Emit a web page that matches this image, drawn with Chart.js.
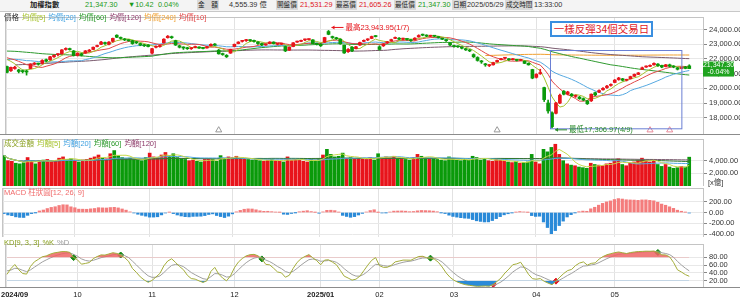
<!DOCTYPE html>
<html>
<head>
<meta charset="utf-8">
<script src="https://cdn.jsdelivr.net/npm/chart.js@4.4.1/dist/chart.umd.min.js"></script>
<style>
  body { margin: 0; width: 740px; height: 301px; overflow: hidden; background: #fff; position: relative;
         font-family: "Liberation Sans", "Noto Sans CJK TC", sans-serif; }
  canvas { position: absolute; left: 0; }
  .t { position: absolute; font-size: 8px; line-height: 10px; white-space: nowrap; }
  #hdr .t { font-size: 7.3px; }
  #hdr .lb { background: #dadada; color: #222; font-size: 6.6px; padding: 0 1px; }
  .g { color: #1a9a1a; } .r { color: #e0161e; }
  #hdr { position: absolute; left: 0; top: 0; width: 740px; height: 11px; background: #f4f4f4; border-bottom: 1px solid #c8c8c8; }
  .leg span { margin-right: 3px; }
  #note { position: absolute; left: 550px; top: 21px; width: 99px; height: 12px; border: 2px solid #3a8fe0; white-space: nowrap;
          color: #e0161e; font-family: "Noto Sans CJK TC", sans-serif; font-size: 10.5px; line-height: 12px; text-align: center; background: #fff; }
</style>
</head>
<body>
<div id="hdr">
  <span class="t" style="left:30px;top:0;font-weight:bold;color:#222">加權指數</span>
  <span class="t g" style="left:85px;top:0">21,347.30</span>
  <span class="t g" style="left:128px;top:0">▼10.42</span>
  <span class="t g" style="left:158px;top:0">0.04%</span>
  <span class="t lb" style="left:197px;top:0">金　額</span>
  <span class="t" style="left:229px;top:0;color:#333">4,555.39 億</span>
  <span class="t lb" style="left:276px;top:0">開盤價</span>
  <span class="t r" style="left:300px;top:0">21,531.29</span>
  <span class="t lb" style="left:335px;top:0">最高價</span>
  <span class="t r" style="left:359px;top:0">21,605.26</span>
  <span class="t lb" style="left:394px;top:0">最低價</span>
  <span class="t g" style="left:418px;top:0">21,347.30</span>
  <span class="t lb" style="left:452px;top:0">日期</span>
  <span class="t" style="left:467px;top:0;color:#333">2025/05/29</span>
  <span class="t lb" style="left:505px;top:0">成交時間</span>
  <span class="t" style="left:534px;top:0;color:#333">13:33:00</span>
</div>

<canvas id="price" width="740" height="127" style="top:12px"></canvas>
<canvas id="vol" width="740" height="47" style="top:139px"></canvas>
<canvas id="macd" width="740" height="49" style="top:188px"></canvas>
<canvas id="kd" width="740" height="62" style="top:239px"></canvas>

<div class="t leg" style="left:4px;top:13px;font-size:7.5px">
  <span style="color:#333">價格</span><span style="color:#a6c22e">均價[5]</span><span style="color:#3ea0e0">均價[20]</span><span style="color:#2a9a2a">均價[60]</span><span style="color:#8e3a6a">均價[120]</span><span style="color:#f0a030">均價[240]</span><span style="color:#e04848">均價[10]</span>
</div>
<div class="t leg" style="left:4px;top:139px;font-size:7.5px">
  <span style="color:#8aa020">成交金額</span><span style="color:#a6c22e">均額[5]</span><span style="color:#3ea0e0">均額[20]</span><span style="color:#2a9a2a">均額[60]</span><span style="color:#8e3a6a">均額[120]</span>
</div>
<div class="t" style="left:4px;top:188px;font-size:7.5px;color:#f06a6a">MACD 柱狀圖[12, 26, 9]</div>
<div class="t leg" style="left:4px;top:238px;font-size:7.5px">
  <span style="color:#8aa020">KD[9, 3, 3]</span><span style="color:#8aa020">%K</span><span style="color:#999">%D</span>
</div>
<div class="t" style="left:708px;top:178px;font-size:7.5px;color:#333">[x億]</div>
<div id="note">一樣反彈34個交易日</div>

<script>
// trading calendar (TWSE), 2024/09/04 - 2025/05/29
const holidays = ['2024-09-17','2024-10-02','2024-10-03','2024-10-10','2024-10-31','2025-01-01',
  '2025-01-23','2025-01-24','2025-01-27','2025-01-28','2025-01-29','2025-01-30','2025-01-31',
  '2025-02-28','2025-04-03','2025-04-04','2025-05-01'];
const dates = [];
for (let d = new Date(Date.UTC(2024, 8, 4)); d <= new Date(Date.UTC(2025, 4, 29)); d.setUTCDate(d.getUTCDate() + 1)) {
  const s = d.toISOString().slice(0, 10);
  if (d.getUTCDay() === 0 || d.getUTCDay() === 6 || holidays.includes(s)) continue;
  dates.push(s);
}

// closes before the window (2024/03/15 - 2024/09/03), only used to warm up the averages
const warmupCloses = [
  19700,19900,19750,19950,20100,20200,20250,20150,20200,20250,20300,
  20400,20450,20400,20650,20800,20790,20680,20700,20400,19950,20300,20200,19500,19600,20000,20100,20000,20300,20500,20400,
  20300,20200,20350,20500,20700,20600,20650,20700,20850,20900,21000,21200,21250,21300,21200,21250,21500,21350,21400,21500,21350,21175,
  21500,21350,21650,21860,21860,21880,22000,22300,22500,22500,22900,23200,23400,23250,23000,23000,23200,22950,23030,
  23100,23200,23500,23700,23500,23800,23900,24000,24390,23900,23800,24100,23600,23400,23000,22500,22800,22100,22500,22200,22200,
  22000,21640,19830,20500,21000,20900,21400,21600,21800,21900,21800,22300,22100,22100,22300,22200,22100,22200,22200,22300,22100,22270,
  22300,22090
];

const open = [
  21480,21200,21350,21250,21200,21150,21350,21650,21700,21700,21950,21950,22150,22300,22350,22650,22700,22550,
  22250,22350,22400,22520,22650,22850,23000,23100,23000,23200,23620,23450,23350,23300,23250,23150,23050,22950,22950,
  22400,22800,22850,23100,23450,23500,23250,22900,22800,22750,22700,22780,22800,22760,22750,22900,23000,22600,22350,22250,22400,
  22850,23050,23200,23250,23300,23250,23150,23050,22950,23050,23150,23000,23000,22850,22600,22850,23150,23200,23300,23320,23300,23050,
  23000,23150,23870,23500,23450,23350,22930,22500,22800,22700,22950,23200,23300,23400,23550,
  22830,22900,23100,23250,23400,23400,23350,23350,23300,23300,23500,23650,23600,23550,23560,23500,23400,23300,23100,
  22900,22850,22800,22700,22600,22300,22100,21850,21650,21550,21600,21800,21950,22050,22000,21950,21950,21900,21850,21700,21280,
  20750,21000,20050,19000,18330,18300,19000,19800,19600,19600,19450,19400,19300,19150,19150,19700,19750,19900,20050,20200,
  20400,20600,20650,20550,20650,20820,20950,21300,21450,21500,21600,21650,21550,21480,21600,21500,21400,21350,21450,21531.29
];
const high = [
  21520,21450,21500,21300,21250,21250,21680,21760,21720,21950,22000,22180,22280,22350,22640,22760,22740,22580,
  22420,22400,22580,22650,22820,22950,23200,23150,23180,23420,23650,23500,23400,23320,23280,23200,23080,23000,22980,
  22720,22900,22950,23380,23600,23560,23280,22950,22830,22800,22780,22880,22820,22790,22860,23030,23050,22650,22400,22300,22670,
  23020,23180,23250,23330,23320,23280,23180,23080,23030,23180,23170,23050,23080,22880,22820,23120,23220,23280,23350,23380,23320,23080,
  23050,23480,23943.95,23560,23480,23370,22950,22700,22850,22860,23150,23300,23380,23560,23600,
  22900,23050,23200,23350,23500,23450,23420,23380,23320,23450,23650,23700,23650,23620,23600,23520,23420,23320,23120,
  22950,22900,22830,22720,22650,22350,22150,21900,21700,21620,21780,21930,22050,22100,22020,22030,21970,21980,21870,21740,21300,
  21000,21300,20080,19200,18400,19050,19600,19850,19800,19650,19550,19450,19350,19180,19620,19750,19900,20050,20200,20300,
  20600,20750,20680,20620,20830,20980,21080,21450,21530,21600,21730,21680,21580,21630,21650,21550,21420,21450,21500,21605.26
];
const low = [
  21050,21150,21300,21050,21050,20900,21330,21600,21580,21650,21820,21900,22100,22200,22330,22600,22600,22200,
  22200,22200,22380,22500,22630,22820,22980,23000,22950,23150,23450,23350,23250,23200,23000,23050,22900,22850,22820,
  22350,22750,22800,23080,23420,23400,22920,22750,22650,22650,22650,22760,22720,22680,22740,22880,22920,22330,22250,22100,22380,
  22830,23030,23150,23200,23200,23150,23000,22900,22930,23030,23020,22950,22980,22500,22580,22830,23120,23180,23250,23300,23030,22950,
  22850,23120,23650,23400,23330,23000,22380,22450,22500,22680,22930,23180,23250,23380,23500,
  22600,22850,23050,23200,23380,23320,23300,23280,23200,23280,23480,23580,23520,23500,23500,23420,23320,23200,22900,
  22800,22780,22680,22580,22500,22100,21850,21700,21500,21480,21580,21780,21930,22000,21900,21930,21860,21880,21680,21580,20650,
  20700,20950,19100,18300,17306.97,18250,18950,19550,19550,19450,19380,19250,19150,18900,19100,19500,19700,19880,20000,20150,
  20380,20550,20500,20500,20630,20800,20930,21280,21420,21480,21580,21500,21400,21460,21450,21400,21250,21330,21330,21347.30
];
const close = [
  21092,21430,21440,21150,21140,21110,21650,21700,21650,21900,21870,22150,22250,22300,22620,22700,22640,22230,
  22400,22250,22550,22600,22800,22900,23150,23050,23150,23400,23480,23400,23300,23250,23050,23100,22950,22900,22850,
  22700,22850,22900,23350,23550,23450,22950,22800,22750,22700,22730,22850,22750,22720,22830,23000,22950,22350,22300,22150,22650,
  23000,23150,23200,23300,23250,23200,23050,22950,23000,23150,23050,23000,23050,22550,22800,23100,23200,23250,23300,23350,23050,23000,
  22900,23460,23680,23460,23380,23040,22410,22650,22550,22830,23120,23250,23350,23530,23525,
  22650,23000,23150,23300,23460,23350,23380,23330,23250,23420,23600,23620,23560,23580,23550,23460,23350,23250,22950,
  22850,22830,22730,22620,22550,22150,21900,21800,21600,21550,21750,21900,22000,22050,21950,22000,21900,21950,21700,21600,20695,
  20950,21050,19232,18460,17391,19000,19528,19600,19750,19500,19500,19300,19200,18950,19600,19550,19850,20000,20150,20235,
  20560,20700,20550,20580,20800,20950,21050,21400,21500,21550,21700,21550,21450,21600,21500,21450,21300,21400,21357.72,21347.30
];
// turnover, 億元
const volume = [
  4800,4000,3900,3600,3500,3700,4500,3900,3500,4000,4100,4200,3900,4000,4400,4600,4200,4300,
  4000,3800,4100,4200,4400,4600,4900,4400,4300,5100,5600,4800,4500,4300,4400,4200,4100,4000,4500,
  5200,4600,4500,4900,5300,4800,5100,4500,4300,4200,4000,4100,3900,3800,4200,4300,4200,3900,4800,4400,4600,
  4500,4700,4400,4300,4200,4100,4200,4000,3900,4100,4200,4000,3900,3800,4600,4100,4200,4100,3900,3800,4200,4100,
  4300,4900,5800,5000,4600,4700,5200,4400,4500,4300,4400,4300,4200,4500,4100,
  5100,4500,4600,4500,4700,4400,4300,4200,4100,4500,5000,4700,4500,4400,4300,4200,4100,4000,4600,
  4200,4100,4000,4200,4100,4700,4500,4100,4300,4000,3900,4200,4100,3900,3800,3700,3900,3600,3700,3800,5000,
  3800,3500,5800,5400,6100,6600,5000,4000,3500,3300,3200,3000,2900,2800,3600,3400,3300,3200,3500,3600,
  4000,4300,3400,3200,3600,3800,4000,4400,4000,3800,4100,3400,3100,3400,3000,2800,2900,3100,3000,4555.39
];
const priceTicks = [18000, 19000, 20000, 21000, 22000, 23000, 24000];
const volTicks = [2000, 4000];
const macdTicks = [-400, -200, 0, 200];
const kdTicks = [20, 40, 60, 80];
const markIdx = [54, 125, 164, 169];        // △ event marks
const lastText = ['21,347.30', '-0.04%'];

const RED = '#e8141b', GREEN = '#0a9a0a';
const N = close.length;
const labels = dates.concat(['', '', '']);
const isMonth = i => i === 0 || (i < N && dates[i].slice(5, 7) !== dates[i - 1].slice(5, 7));
const monthLabel = i => (i === 0 || dates[i].slice(5, 7) === '01') ? dates[i].slice(0, 7).replace('-', '/') : dates[i].slice(5, 7);
const col = close.map((c, i) => c >= open[i] ? RED : GREEN);

const allC = warmupCloses.concat(close);
const W = warmupCloses.length;
function sma(n) {
  return close.map((_, i) => {
    const j = i + W;
    if (j < n - 1) return null;
    let s = 0;
    for (let k = j - n + 1; k <= j; k++) s += allC[k];
    return s / n;
  });
}
function vma(n) {
  return volume.map((_, i) => {
    const s = Math.max(0, i - n + 1);
    let t = 0;
    for (let k = s; k <= i; k++) t += volume[k];
    return t / (i - s + 1);
  });
}

// MACD
let e12 = allC[0], e26 = allC[0], dem = 0;
const osc = [];
allC.forEach((c, j) => {
  e12 += (c - e12) * 2 / 13;
  e26 += (c - e26) * 2 / 27;
  const dif = e12 - e26;
  dem += (dif - dem) * 0.2;
  if (j >= W) osc.push(dif - dem);
});

// KD 9,3,3
const K = [], D = [];
let kv = 50, dv = 50;
for (let i = 0; i < N; i++) {
  let hh = -Infinity, ll = Infinity;
  for (let j = Math.max(0, i - 8); j <= i; j++) { hh = Math.max(hh, high[j]); ll = Math.min(ll, low[j]); }
  const rsv = hh > ll ? (close[i] - ll) / (hh - ll) * 100 : 50;
  kv = kv * 2 / 3 + rsv / 3;
  dv = dv * 2 / 3 + kv / 3;
  K.push(kv); D.push(dv);
}
const sellK = K.map((v, i) => i > 0 && K[i - 1] >= D[i - 1] && v < D[i] && D[i] > 78 ? v : null);
const buyK = K.map((v, i) => i > 0 && K[i - 1] <= D[i - 1] && v > D[i] && D[i] < 22 ? v : null);

Chart.defaults.font.family = '"Liberation Sans", "Noto Sans CJK TC", sans-serif';
Chart.defaults.animation = false;

function xAxis() {
  return {
    type: 'category', offset: true,
    grid: { offset: false, drawTicks: false, color: c => isMonth(c.index) ? '#e2e2e2' : 'transparent' },
    ticks: { display: false }, border: { display: false },
    afterFit: s => { s.height = 0; s.paddingLeft = 0; s.paddingRight = 0; }
  };
}
function yAxis(min, max, ticks) {
  return {
    position: 'right', min, max,
    afterBuildTicks: s => { s.ticks = ticks.map(v => ({ value: v })); },
    afterFit: s => { s.width = 37; s.paddingTop = 0; s.paddingBottom = 0; },
    grid: { color: '#e8e8e8', tickLength: 4, tickColor: '#888' },
    border: { color: '#999' },
    ticks: { font: { size: 7.5 }, color: '#333', padding: 2,
             callback: v => v.toLocaleString('en-US', { minimumFractionDigits: 2, maximumFractionDigits: 2 }) }
  };
}
const frame = {
  id: 'frame',
  afterDraw(chart) {
    const { ctx, chartArea: a } = chart;
    ctx.save();
    ctx.strokeStyle = '#c4c4c4';
    ctx.strokeRect(a.left + 0.5, a.top + 0.5, a.right - a.left, a.bottom - a.top);
    ctx.strokeStyle = '#8c8c8c';
    ctx.beginPath(); ctx.moveTo(0, a.bottom + 0.5); ctx.lineTo(740, a.bottom + 0.5); ctx.stroke();
    ctx.restore();
  }
};
function base(extra) {
  return Object.assign({
    responsive: false, devicePixelRatio: 1,
    layout: { padding: { left: 2, right: 0, top: 0, bottom: 0 } },
    plugins: { legend: { display: false }, tooltip: { enabled: false } }
  }, extra);
}
const line = (data, color) => ({ type: 'line', data, borderColor: color, borderWidth: 1, pointRadius: 0, fill: false, order: 1 });

// price panel
const annot = {
  id: 'annot',
  afterDatasetsDraw(chart) {
    const { ctx, scales: { x, y } } = chart;
    ctx.save();
    // 34-day rebound box
    const bx1 = x.getPixelForValue(138.6), bx2 = x.getPixelForValue(172.1);
    const by1 = y.getPixelForValue(22600), by2 = y.getPixelForValue(17265);
    ctx.strokeStyle = '#6a7fd4'; ctx.lineWidth = 1;
    ctx.strokeRect(Math.round(bx1) + 0.5, Math.round(by1) + 0.5, bx2 - bx1, by2 - by1);
    // high / low notes
    const hi = high.indexOf(Math.max(...high)), lo = low.indexOf(Math.min(...low));
    const notes = [
      [hi, high[hi], -3, RED, '最高23,943.95(1/7)'],
      [lo, low[lo], 2, '#2a8a2a', '最低17,306.97(4/9)']
    ];
    ctx.font = '7.5px "Liberation Sans", "Noto Sans CJK TC"';
    ctx.textBaseline = 'middle';
    notes.forEach(([i, v, dy, c, txt]) => {
      const px = x.getPixelForValue(i) + 3, py = y.getPixelForValue(v) + dy;
      ctx.strokeStyle = c; ctx.fillStyle = c;
      ctx.beginPath(); ctx.moveTo(px, py); ctx.lineTo(px + 12, py); ctx.stroke();
      ctx.beginPath(); ctx.moveTo(px, py); ctx.lineTo(px + 3, py - 2); ctx.lineTo(px + 3, py + 2); ctx.fill();
      ctx.fillText(txt, px + 14, py);
    });
    ctx.restore();
  },
  afterDraw(chart) {
    const { ctx, scales: { y }, chartArea: a } = chart;
    const py = y.getPixelForValue(close[N - 1]);
    ctx.save();
    ctx.fillStyle = '#1fa31f';
    ctx.fillRect(a.right, py - 7, 31, 15);
    ctx.fillStyle = '#fff';
    ctx.font = '7px "Liberation Sans"';
    ctx.textAlign = 'center'; ctx.textBaseline = 'middle';
    ctx.fillText(lastText[0], a.right + 15.5, py - 3.5);
    ctx.fillText(lastText[1], a.right + 15.5, py + 3.5);
    ctx.restore();
  }
};
new Chart(document.getElementById('price'), {
  type: 'bar',
  data: {
    labels,
    datasets: [
      { data: close.map((c, i) => [open[i], c]), backgroundColor: col, barThickness: 3, minBarLength: 1, grouped: false, order: 0 },
      { data: close.map((c, i) => [low[i], high[i]]), backgroundColor: col, barThickness: 1, grouped: false, order: 0 },
      line(sma(5), '#a6c22e'),
      line(sma(10), '#e04848'),
      line(sma(20), '#55a8e0'),
      line(sma(60), '#2f9a2f'),
      line(sma(120), '#7a5a6e'),
      line(sma(240), '#f0a030'),
      { type: 'line', data: close.map((_, i) => markIdx.includes(i) ? 17150 : null), showLine: false,
        pointStyle: 'triangle', pointRadius: 3.5, borderWidth: 1, backgroundColor: '#fff',
        borderColor: close.map((_, i) => i > 150 ? '#e88a9a' : '#999'), order: 0 }
    ]
  },
  options: base({ scales: { x: xAxis(), y: yAxis(16888, 24860, priceTicks) } }),
  plugins: [frame, annot]
});

// turnover panel
new Chart(document.getElementById('vol'), {
  type: 'bar',
  data: {
    labels,
    datasets: [
      { data: volume, backgroundColor: col, barThickness: 3, order: 2 },
      line(vma(5), '#c6d84a'),
      line(vma(20), '#55a8e0'),
      line(vma(60), '#2f7a2f'),
      line(vma(120), '#7a5a6e')
    ]
  },
  options: base({ scales: { x: xAxis(), y: yAxis(0, 7430, volTicks) } }),
  plugins: [frame]
});

// MACD panel
new Chart(document.getElementById('macd'), {
  type: 'bar',
  data: {
    labels,
    datasets: [{ data: osc, backgroundColor: osc.map(v => v >= 0 ? '#f47c7c' : '#2a8ad8'), barThickness: 2.6 }]
  },
  options: base({ scales: { x: xAxis(), y: yAxis(-454, 454, macdTicks) } }),
  plugins: [frame]
});

// KD panel + month labels
const months = {
  id: 'months',
  afterDraw(chart) {
    const { ctx, scales: { x }, chartArea: a } = chart;
    ctx.save();
    ctx.fillStyle = '#222'; ctx.textBaseline = 'middle';
    dates.forEach((d, i) => {
      if (!isMonth(i)) return;
      const txt = monthLabel(i);
      ctx.font = (txt.length > 2 ? 'bold ' : '') + '7.5px "Liberation Sans"';
      const w = ctx.measureText(txt).width;
      ctx.fillText(txt, Math.max(1, x.getPixelForValue(i) - w / 2), a.bottom + 8);
    });
    ctx.restore();
  }
};
new Chart(document.getElementById('kd'), {
  type: 'line',
  data: {
    labels,
    datasets: [
      { data: K, borderColor: '#a4ad3a', borderWidth: 1, pointRadius: 0,
        fill: { target: { value: 80 }, above: 'rgba(238,100,100,0.85)', below: 'transparent' } },
      { data: K, borderColor: 'transparent', borderWidth: 0, pointRadius: 0,
        fill: { target: { value: 20 }, above: 'transparent', below: '#2a8ad8' } },
      { data: D, borderColor: '#a0a0a0', borderWidth: 1, pointRadius: 0, fill: false },
      { data: sellK, showLine: false, pointStyle: 'rectRot', pointRadius: 3, backgroundColor: '#168a16', borderColor: '#168a16' },
      { data: buyK, showLine: false, pointStyle: 'rectRot', pointRadius: 3, backgroundColor: '#e0161e', borderColor: '#e0161e' }
    ]
  },
  options: base({
    layout: { padding: { left: 2, right: 0, top: 0, bottom: 14 } },
    scales: { x: xAxis(), y: yAxis(3.8, 114.6, kdTicks) }
  }),
  plugins: [frame, months]
});
</script>
</body>
</html>
